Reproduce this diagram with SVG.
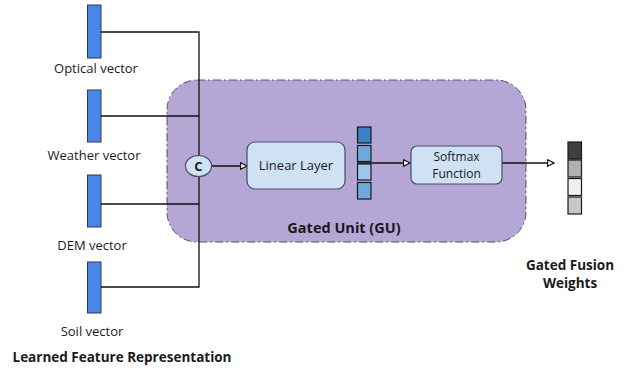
<svg xmlns="http://www.w3.org/2000/svg" width="643" height="374" viewBox="0 0 643 374">
<defs>
<style>
text{font-family:"Open Sans","Liberation Sans",sans-serif;fill:#1a1a1a}
.lbl{font-size:13px;text-anchor:middle}
.b{font-weight:bold;font-size:13.5px;text-anchor:middle}
.vec{fill:#4a86e8;stroke:#2b3b55;stroke-width:1}
.ln{fill:none;stroke:#111;stroke-width:1.3}
.box{fill:#cfe2f3;stroke:#4a4a6a;stroke-width:1.2}
.sq{stroke:#1a1a1a;stroke-width:1.2}
</style>
<marker id="ah" viewBox="0 0 10 10" refX="9" refY="5" markerWidth="8" markerHeight="8" orient="auto" markerUnits="userSpaceOnUse">
<path d="M1,1 L9,5 L1,9 Z" fill="#fff" stroke="#111" stroke-width="1.5"/>
</marker>
</defs>
<rect width="643" height="374" fill="#fff"/>
<g id="gated-unit">
<rect x="167" y="80" width="359" height="162" rx="30" fill="#b4a7d6" stroke="#555" stroke-width="1" stroke-dasharray="8 3 2 3"/>
<text class="b" x="344" y="233" style="font-size:14.5px">Gated Unit (GU)</text>
</g>
<g id="optical">
<rect class="vec" x="87.5" y="5" width="13.5" height="53"/>
<text class="lbl" x="96" y="73">Optical vector</text>
</g>
<g id="weather">
<rect class="vec" x="87.5" y="90" width="13.5" height="52"/>
<text class="lbl" x="94" y="160">Weather vector</text>
</g>
<g id="dem">
<rect class="vec" x="87.5" y="175" width="13.5" height="52"/>
<text class="lbl" x="92" y="250">DEM vector</text>
</g>
<g id="soil">
<rect class="vec" x="87.5" y="262" width="13.5" height="51"/>
<text class="lbl" x="92" y="336">Soil vector</text>
</g>
<text class="b" x="122" y="362">Learned Feature Representation</text>
<g id="connectors">
<path class="ln" d="M101,32 H199 V287 H101 M101,116 H199 M101,204 H199"/>
<path class="ln" d="M212,166 H247" marker-end="url(#ah)"/>
<path class="ln" d="M357,163 H410" marker-end="url(#ah)"/>
<path class="ln" d="M502,163 H554" marker-end="url(#ah)"/>
</g>
<g id="concat">
<ellipse cx="198.5" cy="166" rx="13" ry="10.5" fill="#cfe2f3" stroke="#4a4a6a" stroke-width="1.2"/>
<text x="198.5" y="171" style="font-size:13px;font-weight:bold;text-anchor:middle">C</text>
</g>
<g id="linear">
<rect class="box" x="247" y="142" width="98" height="47" rx="8"/>
<text class="lbl" x="296" y="170">Linear Layer</text>
</g>
<g id="hidden">
<rect class="sq" x="357.5" y="127" width="13.5" height="16" fill="#3d7fc4"/>
<rect class="sq" x="357.5" y="145.5" width="13.5" height="16" fill="#6fa8dc"/>
<rect class="sq" x="357.5" y="164" width="13.5" height="16" fill="#9fc5e8"/>
<rect class="sq" x="357.5" y="182.5" width="13.5" height="16.5" fill="#6fa8dc"/>
</g>
<g id="softmax">
<rect class="box" x="411" y="146" width="91" height="38" rx="6"/>
<text class="lbl" x="456.5" y="161" style="font-size:12px">Softmax</text>
<text class="lbl" x="456.5" y="178" style="font-size:12px">Function</text>
</g>
<g id="weights">
<rect class="sq" x="568" y="142" width="13.5" height="17" fill="#404040"/>
<rect class="sq" x="568" y="160" width="13.5" height="17" fill="#b0b0b0"/>
<rect class="sq" x="568" y="178.5" width="13.5" height="17" fill="#efefef"/>
<rect class="sq" x="568" y="197" width="13.5" height="17" fill="#c8c8c8"/>
<text class="b" x="570" y="270">Gated Fusion</text>
<text class="b" x="570" y="288">Weights</text>
</g>
</svg>
